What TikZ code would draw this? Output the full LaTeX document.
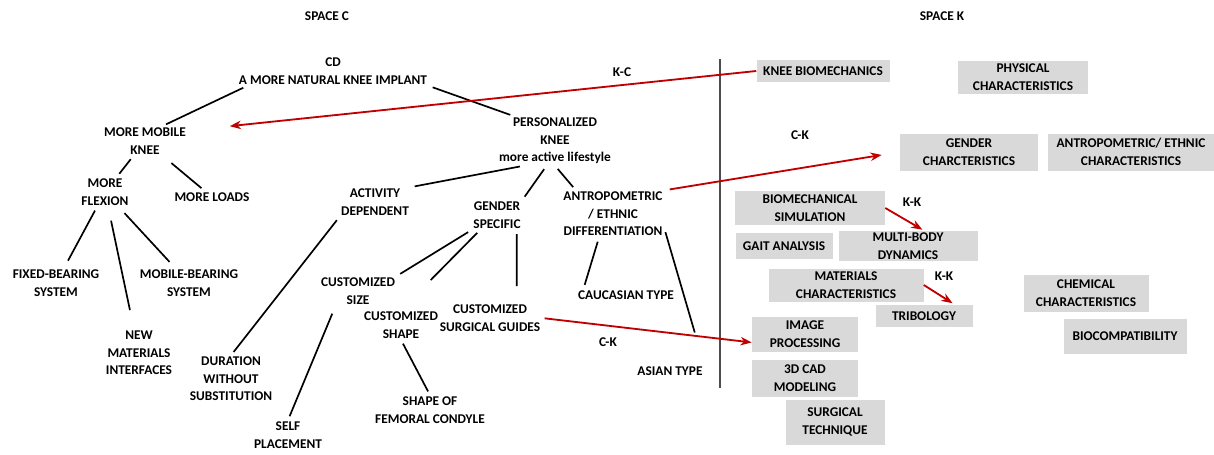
\documentclass[tikz,border=0pt]{standalone}
\usepackage{fontspec}
\setmainfont{Carlito}
\usetikzlibrary{arrows.meta}
\definecolor{boxgray}{RGB}{217,217,217}
\definecolor{linkred}{RGB}{192,0,0}
\def\pxu{0.025cm}

\begin{document}
\begin{tikzpicture}[x=0.025cm,y=-0.025cm,
  every node/.style={font=\fontsize{9.5}{12.5}\selectfont\bfseries,align=center,inner sep=1pt},
  kbox/.style 2 args={fill=boxgray,minimum width=#1*\pxu,minimum height=#2*\pxu},
  link/.style={line width=1.2pt,shorten <=3pt,shorten >=3pt},
  cross/.style={linkred,line width=1.3pt,-{Stealth[length=8pt,width=6pt]}},
  divider/.style={gray!60!black,line width=1.6pt}]
\useasboundingbox (0,0) rectangle (1214,454);

\node (spc) at (327,16) {SPACE C};
\node (spk) at (942,16) {SPACE K};

\node (cd) at (333,71) {CD\\A MORE NATURAL KNEE IMPLANT};
\node (mmk) at (145,141) {MORE MOBILE\\KNEE};
\node (pers) at (555,141) {PERSONALIZED\\KNEE\\more active lifestyle};
\node (flex) at (105,192) {MORE\\FLEXION};
\node (loads) at (212,197) {MORE LOADS};
\node (act) at (375,202) {ACTIVITY\\DEPENDENT};
\node (gend) at (497,215) {GENDER\\SPECIFIC};
\node (antro) at (613,214) {ANTROPOMETRIC\\/ ETHNIC\\DIFFERENTIATION};
\node (fixed) at (56,283) {FIXED-BEARING\\SYSTEM};
\node (mobb) at (189,283) {MOBILE-BEARING\\SYSTEM};
\node (newm) at (139,353) {NEW\\MATERIALS\\INTERFACES};
\node (dur) at (231,379) {DURATION\\WITHOUT\\SUBSTITUTION};
\node (csize) at (358,291) {CUSTOMIZED\\SIZE};
\node (cshape) at (401,325) {CUSTOMIZED\\SHAPE};
\node (cguide) at (490,318) {CUSTOMIZED\\SURGICAL GUIDES};
\node (cauc) at (626,295) {CAUCASIAN TYPE};
\node (asian) at (670,371) {ASIAN TYPE};
\node (femur) at (430,410) {SHAPE OF\\FEMORAL CONDYLE};
\node (self) at (288,435) {SELF\\PLACEMENT};

\node[kbox={133}{22}] (kbio) at (823,71) {KNEE BIOMECHANICS};
\node[kbox={130}{33}] (phys) at (1023,77) {PHYSICAL\\CHARACTERISTICS};
\node[kbox={138}{37}] (gchar) at (969,152) {GENDER\\CHARCTERISTICS};
\node[kbox={166}{37}] (achar) at (1131,152) {ANTROPOMETRIC/ ETHNIC\\CHARACTERISTICS};
\node[kbox={150}{34}] (bsim) at (810,208) {BIOMECHANICAL\\SIMULATION};
\node[kbox={97}{26}] (gait) at (784,246) {GAIT ANALYSIS};
\node[kbox={139}{26}] (mbd) at (908,246) {MULTI-BODY\\DYNAMICS};
\node[kbox={155}{33}] (mat) at (846,285) {MATERIALS\\CHARACTERISTICS};
\node[kbox={97}{22}] (trib) at (924,316) {TRIBOLOGY};
\node[kbox={125}{37}] (chem) at (1086,293) {CHEMICAL\\CHARACTERISTICS};
\node[kbox={123}{35}] (bioc) at (1125,336) {BIOCOMPATIBILITY};
\node[kbox={106}{35}] (imgp) at (805,334) {IMAGE\\PROCESSING};
\node[kbox={106}{37}] (cad) at (805,378) {3D CAD\\MODELING};
\node[kbox={99}{45}] (surg) at (835,422) {SURGICAL\\TECHNIQUE};

\node (kc) at (622,72) {K-C};
\node (ck1) at (800,135) {C-K};
\node (kk1) at (912,202) {K-K};
\node (kk2) at (944,276) {K-K};
\node (ck2) at (608,342) {C-K};

\coordinate (divtop) at (720,59);
\coordinate (divbot) at (720,388);
\draw[divider] (divtop) -- (divbot);

\draw[link] ([xshift=7pt]cd.south west) -- ([xshift=-18pt]mmk.north east);
\draw[link] (cd.south east) -- ([xshift=12pt]pers.north west);
\draw[link] (mmk) -- (flex);
\draw[link,shorten <=8pt] (mmk) -- (loads);
\draw[link,shorten >=6pt] (flex) -- (fixed);
\draw[link,shorten <=10pt,shorten >=14pt] (flex) -- (newm);
\draw[link,shorten <=6pt,shorten >=6pt] (flex) -- (mobb);
\draw[link] ([xshift=-22pt]pers.south) -- (act.north east);
\draw[link] ([xshift=-6pt]pers.south) -- (gend.north east);
\draw[link] (pers.south) -- ([xshift=10pt]antro.north west);
\draw[link] (act.south west) -- (dur.north);
\draw[link] (gend.south west) -- (csize.north east);
\draw[link,shorten >=30pt] ([xshift=-12pt]gend.south) -- (cshape.north);
\draw[link,shorten >=12pt] ([xshift=14pt]gend.south) -- ([xshift=19pt]cguide.north);
\draw[link] ([xshift=-10pt]antro.south) -- ([xshift=5pt]cauc.north west);
\draw[link,shorten >=24pt] ([yshift=-10pt]antro.east) -- (asian.north east);
\draw[link,shorten <=6pt] ([xshift=-16pt]csize.south) -- (self.north);
\draw[link] (cshape.south) -- (femur.north);

\draw[cross] (kbio.west) -- ([xshift=30pt]mmk.north east);
\draw[cross,shorten <=4pt,shorten >=13pt] (antro.north east) -- (gchar.west);
\draw[cross,shorten >=2pt] (bsim.east) -- ([xshift=12pt]mbd.north);
\draw[cross,shorten >=2pt] (mat.east) -- ([xshift=22pt]trib.north);
\draw[cross,shorten <=2pt] (cguide.east) -- ([yshift=-6pt]imgp.west);
\end{tikzpicture}
\end{document}
